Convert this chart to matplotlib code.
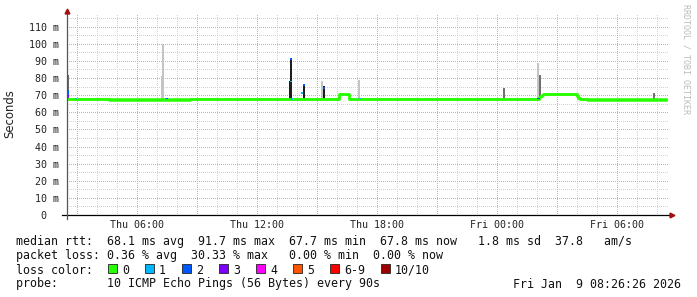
import matplotlib
matplotlib.use("Agg")
import numpy as np
import matplotlib.pyplot as plt
from matplotlib.patches import Rectangle

W, H = 697, 297
MONO = "DejaVu Sans Mono"

# time axis in hours since Thu 00:00, values in ms
x_start, x_end = 2.5, 32.6
y_top = 118.0

# median rtt steps: step start, lowest / highest median seen in the step
med_t = [2.55, 4.6, 8.65, 16.1, 16.6, 26.1, 26.17, 26.23, 26.3, 28.0, 28.07, 28.15, 28.5, 32.45]
med_lo = [68.0, 67.4, 67.8, 70.7, 68.0, 68.9, 69.6, 70.2, 70.7, 69.6, 68.6, 68.0, 67.4, 67.4]
med_hi = [68.0, 68.0, 68.0, 70.7, 68.0, 68.9, 69.6, 70.2, 70.7, 69.6, 68.6, 68.0, 68.0, 68.0]

# smoke spikes: time, top value, smoke level (0 light, 1 mid, 2 dark)
smoke_t = [2.55, 7.25, 7.28, 13.65, 13.68, 14.33, 15.25, 15.33, 17.08, 24.35, 26.03, 26.13, 31.85]
smoke_hi = [82.0, 81.3, 99.9, 78.0, 91.7, 76.6, 78.0, 75.1, 79.0, 74.1, 88.8, 81.9, 71.5]
smoke_lvl = [1, 0, 0, 2, 2, 2, 0, 2, 0, 1, 0, 1, 1]
smoke_base = 68.0

# loss coloured median pieces: time, low, high, loss class
loss_t = [2.55, 2.55, 2.95, 7.45, 7.5, 13.68, 13.68, 13.75, 14.23, 14.33, 15.33, 17.2, 26.05, 26.1]
loss_lo = [70.0, 68.5, 67.5, 67.5, 67.5, 90.5, 77.5, 67.3, 70.5, 75.5, 73.5, 67.5, 67.6, 67.6]
loss_hi = [73.0, 70.0, 68.5, 68.5, 68.5, 91.7, 78.5, 68.3, 72.0, 76.6, 75.0, 68.5, 68.6, 68.6]
loss_cls = [2, 3, 1, 1, 2, 2, 1, 1, 1, 2, 2, 1, 3, 2]

loss_labels = ["0", "1", "2", "3", "4", "5", "6-9", "10/10"]
loss_colors = ["#26ff00", "#00b8ff", "#0059ff", "#7e00ff", "#ff00ff", "#ff5500", "#ff0000", "#a10000"]
smoke_colors = ["#c4c4c4", "#707070", "#1e1e1e"]

xtick_pos = [6, 12, 18, 24, 30]
xtick_lab = ["Thu 06:00", "Thu 12:00", "Thu 18:00", "Fri 00:00", "Fri 06:00"]
ytick_pos = list(range(0, 111, 10))

stats_rtt = "median rtt:  68.1 ms avg  91.7 ms max  67.7 ms min  67.8 ms now   1.8 ms sd  37.8   am/s"
stats_loss = "packet loss: 0.36 % avg  30.33 % max   0.00 % min  0.00 % now"
probe_txt = "probe:       10 ICMP Echo Pings (56 Bytes) every 90s"
stamp_txt = "Fri Jan  9 08:26:26 2026"


def fx(px):
    return px / W


def fy(py):
    return 1 - py / H


fig = plt.figure(figsize=(W / 100, H / 100), dpi=100)
fig.patch.set_facecolor("white")
ax = fig.add_axes([fx(67), fy(215), (669 - 67) / W, (215 - 13) / H])
ax.set_xlim(x_start, x_end)
ax.set_ylim(0, y_top)
for s in ax.spines.values():
    s.set_visible(False)

# grid, dotted 1px on / 1px off
dots = (0, (1, 1.4))
gk = dict(lw=0.72, ls=dots, antialiased=False)
for h in np.arange(3, x_end, 1):
    if h % 3:
        ax.axvline(h, color="#d2d2d2", zorder=1, **gk)
for v in np.arange(5, y_top, 10):
    ax.axhline(v, color="#d2d2d2", zorder=1, **gk)
for h in np.arange(3, x_end, 3):
    ax.axvline(h, color="#eaa2a2", zorder=1.1, **gk)
for v in np.arange(10, y_top, 10):
    ax.axhline(v, color="#eaa2a2", zorder=1.1, **gk)

# smoke
ax.bar(smoke_t, np.array(smoke_hi) - smoke_base, bottom=smoke_base, width=0.1,
       color=[smoke_colors[l] for l in smoke_lvl], zorder=2)

# median band coloured green (no loss)
ax.fill_between(med_t, med_lo, med_hi, step="post", color=loss_colors[0], lw=0, zorder=3)
ax.step(med_t, med_lo, where="post", color=loss_colors[0], lw=1.8, zorder=3)
ax.step(med_t, med_hi, where="post", color=loss_colors[0], lw=1.8, zorder=3)

# loss coloured pieces
ax.bar(loss_t, np.array(loss_hi) - np.array(loss_lo), bottom=loss_lo, width=0.1,
       color=[loss_colors[c] for c in loss_cls], zorder=4)

# ticks
ax.set_xticks(xtick_pos)
ax.set_xticklabels(xtick_lab, fontfamily=MONO, fontsize=7.2)
ax.set_yticks(ytick_pos)
ax.set_yticklabels([f"{v} m" if v else "0  " for v in ytick_pos], fontfamily=MONO, fontsize=7.2)
ax.tick_params(axis="x", length=0, pad=3.5, colors="#222222")
ax.tick_params(axis="y", length=0, pad=5.8, colors="#222222")

# axes with arrows
ax.plot([-5 / 602, 1.0], [0, 0], transform=ax.transAxes, color="black", lw=0.9, clip_on=False, zorder=5)
ax.plot([0, 0], [-4 / 202, 1.0], transform=ax.transAxes, color="#555555", lw=0.9, clip_on=False, zorder=5)
ax.plot([1.0 + 3 / 602], [0], transform=ax.transAxes, marker=">", ms=3.5, color="#a01010", clip_on=False, zorder=6)
ax.plot([0], [1.0 + 2 / 202], transform=ax.transAxes, marker="^", ms=3.5, color="#a01010", clip_on=False, zorder=6)

fig.text(fx(10), fy(114), "Seconds", rotation=90, ha="center", va="center",
         fontfamily="DejaVu Sans", fontsize=8.4, color="#222222")
fig.text(fx(686), fy(4), "RRDTOOL / TOBI OETIKER", rotation=-90, ha="center", va="top",
         fontfamily=MONO, fontsize=6, color="#bbbbbb")

# legend rows
tk = dict(fontfamily=MONO, fontsize=8.4, color="#111111", va="baseline", ha="left")
fig.text(fx(16), fy(245.5), stats_rtt, **tk)
fig.text(fx(16), fy(259.5), stats_loss, **tk)
fig.text(fx(16), fy(273.5), "loss color:", **tk)
bx = 108
for lab, col in zip(loss_labels, loss_colors):
    fig.patches.append(Rectangle((fx(bx), fy(273)), 9 / W, 9 / H, transform=fig.transFigure,
                                 facecolor=col, edgecolor="#222222", lw=0.6))
    fig.text(fx(bx + 14), fy(273.5), lab, **tk)
    bx = bx + 14 + 7 * len(lab) + 16
fig.text(fx(16), fy(287.5), probe_txt, **tk)
tk["ha"] = "right"
fig.text(fx(681), fy(287.5), stamp_txt, **tk)

fig.savefig("out.png", dpi=100, facecolor="white")
